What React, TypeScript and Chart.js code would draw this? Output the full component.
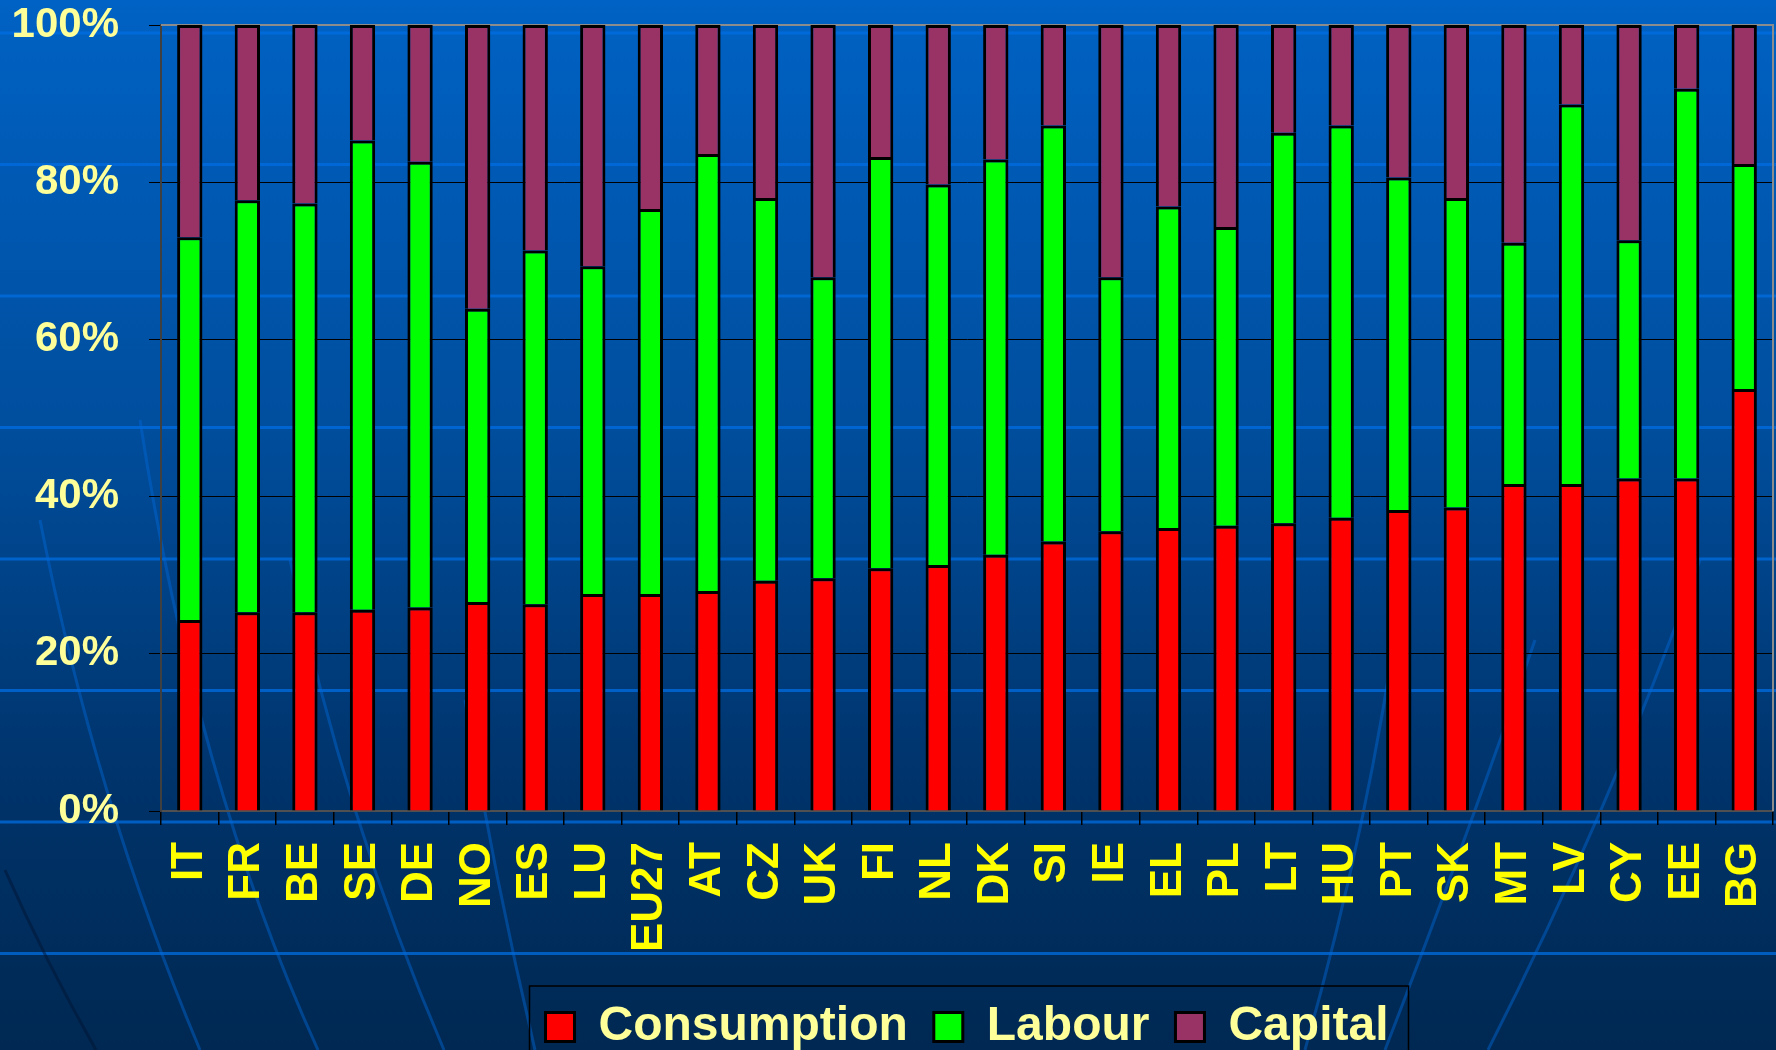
import { useEffect, useRef } from 'react';
import { Chart, registerables } from 'chart.js';

Chart.register(...registerables);

const categories = ['IT', 'FR', 'BE', 'SE', 'DE', 'NO', 'ES', 'LU', 'EU27', 'AT', 'CZ', 'UK', 'FI', 'NL', 'DK', 'SI', 'IE', 'EL', 'PL', 'LT', 'HU', 'PT', 'SK', 'MT', 'LV', 'CY', 'EE', 'BG'];
const consumption = [24.3, 25.3, 25.3, 25.6, 25.9, 26.6, 26.3, 27.6, 27.6, 28.0, 29.3, 29.6, 30.9, 31.3, 32.6, 34.3, 35.6, 36.0, 36.3, 36.6, 37.3, 38.3, 38.6, 41.6, 41.6, 42.3, 42.3, 53.7];
const labour = [48.7, 52.4, 52.0, 59.7, 56.7, 37.3, 45.0, 41.7, 49.0, 55.6, 48.7, 38.3, 52.3, 48.4, 50.3, 52.9, 32.3, 40.9, 38.0, 49.7, 49.9, 42.3, 39.4, 30.7, 48.3, 30.3, 49.6, 28.6];
const capital = [27.0, 22.3, 22.7, 14.7, 17.4, 36.1, 28.7, 30.7, 23.4, 16.4, 22.0, 32.1, 16.8, 20.3, 17.1, 12.8, 32.1, 23.1, 25.7, 13.7, 12.8, 19.4, 22.0, 27.7, 10.1, 27.4, 8.1, 17.7];
const seriesNames = ['Consumption', 'Labour', 'Capital'];
const yTickStep = 20;
const yMax = 100;

const FONT = "'Liberation Sans', Arial, Helvetica, sans-serif";

const backgroundPlugin = {
  id: 'slideBackground',
  beforeDraw(chart: any) {
    const { ctx, width, height } = chart;
    ctx.save();
    const g = ctx.createLinearGradient(0, 0, 0, height);
    g.addColorStop(0, '#0062C4');
    g.addColorStop(0.4, '#004E9E');
    g.addColorStop(0.75, '#00336A');
    g.addColorStop(1, '#002852');
    ctx.fillStyle = g;
    ctx.fillRect(0, 0, width, height);

    // faint horizontal bands
    ctx.strokeStyle = 'rgba(0, 110, 225, 0.75)';
    ctx.lineWidth = 3;
    for (let y = 33; y < height; y += 131.5) {
      ctx.beginPath();
      ctx.moveTo(0, y);
      ctx.lineTo(width, y);
      ctx.stroke();
    }

    // faint globe meridians
    const curves: number[][] = [
      [40, 520, 95, 800, 200, 1050],
      [140, 420, 195, 780, 318, 1050],
      [290, 560, 345, 820, 444, 1050],
      [465, 700, 495, 880, 535, 1050],
      [1400, 600, 1370, 820, 1305, 1050],
      [1535, 640, 1470, 830, 1385, 1050],
      [1700, 560, 1610, 810, 1488, 1050],
    ];
    ctx.strokeStyle = 'rgba(0, 105, 215, 0.45)';
    ctx.lineWidth = 3;
    curves.forEach((c) => {
      ctx.beginPath();
      ctx.moveTo(c[0], c[1]);
      ctx.quadraticCurveTo(c[2], c[3], c[4], c[5]);
      ctx.stroke();
    });
    ctx.strokeStyle = 'rgba(0, 20, 50, 0.5)';
    ctx.beginPath();
    ctx.moveTo(5, 870);
    ctx.quadraticCurveTo(45, 960, 96, 1050);
    ctx.stroke();
    ctx.restore();
  },
  beforeDatasetsDraw(chart: any) {
    const { ctx, chartArea: a } = chart;
    ctx.save();
    ctx.strokeStyle = '#8C8C8C';
    ctx.lineWidth = 2;
    ctx.beginPath();
    ctx.moveTo(a.left, a.top);
    ctx.lineTo(a.right, a.top);
    ctx.lineTo(a.right, a.bottom);
    ctx.stroke();
    ctx.restore();
  },
  afterDraw(chart: any) {
    const lg = chart.legend;
    if (!lg || !lg.legendHitBoxes || !lg.legendHitBoxes.length) return;
    const hb = lg.legendHitBoxes;
    let l = Infinity, r = -Infinity, t = Infinity;
    hb.forEach((h: any) => {
      l = Math.min(l, h.left);
      r = Math.max(r, h.left + h.width);
      t = Math.min(t, h.top);
    });
    const { ctx, height } = chart;
    ctx.save();
    ctx.strokeStyle = '#000';
    ctx.lineWidth = 1.5;
    ctx.strokeRect(l - 16, t - 17, r - l + 36, height + 30 - t);
    ctx.restore();
  },
};

export default function App() {
  const ref = useRef<HTMLCanvasElement | null>(null);

  useEffect(() => {
    document.body.style.margin = '0';
    const canvas = ref.current;
    if (!canvas) return;
    const bar = { borderColor: '#000000', borderWidth: 3, barPercentage: 0.44, categoryPercentage: 1.0 };
    const chart = new Chart(canvas, {
      type: 'bar',
      data: {
        labels: categories,
        datasets: [
          { label: seriesNames[0], data: consumption, backgroundColor: '#FF0000', ...bar },
          { label: seriesNames[1], data: labour, backgroundColor: '#00FF00', ...bar },
          { label: seriesNames[2], data: capital, backgroundColor: '#993366', ...bar },
        ],
      },
      options: {
        responsive: false,
        animation: false,
        events: [],
        layout: { padding: { left: 0, right: 3, top: 0, bottom: -11 } },
        scales: {
          x: {
            stacked: true,
            grid: { display: true, drawOnChartArea: false, drawTicks: true, tickLength: 14, color: '#000000', lineWidth: 1.5, offset: true },
            border: { display: true, color: '#505050', width: 2 },
            ticks: {
              color: '#FFFF00',
              font: { family: FONT, size: 44, weight: 'bold' },
              maxRotation: 90,
              minRotation: 90,
              padding: 17,
              autoSkip: false,
            },
            afterFit: (s: any) => {
              s.height = 166;
              s.paddingLeft = 0;
              s.paddingRight = 0;
            },
          },
          y: {
            stacked: true,
            min: 0,
            max: yMax,
            grid: { color: '#000000', lineWidth: 1, tickLength: 12 },
            border: { display: true, color: '#404040', width: 2 },
            ticks: {
              stepSize: yTickStep,
              color: '#FFFF99',
              font: { family: FONT, size: 42, weight: 'bold' },
              padding: 30,
              callback: (v: any) => v + '%',
            },
            afterFit: (s: any) => {
              s.width = 161;
              s.paddingTop = 25;
              s.paddingBottom = 25;
            },
          },
        },
        plugins: {
          tooltip: { enabled: false },
          legend: {
            position: 'bottom',
            fullSize: false,
            labels: {
              boxWidth: 29,
              boxHeight: 29,
              padding: 26,
              color: '#FFFF99',
              font: { family: FONT, size: 48, weight: 'bold' },
            },
          },
        },
      },
      plugins: [backgroundPlugin],
    } as any);
    return () => chart.destroy();
  }, []);

  return (
    <div style={{ position: 'absolute', left: 0, top: 0, width: 1776, height: 1050 }}>
      <canvas ref={ref} width={1776} height={1050} style={{ display: 'block', width: 1776, height: 1050 }} />
    </div>
  );
}
